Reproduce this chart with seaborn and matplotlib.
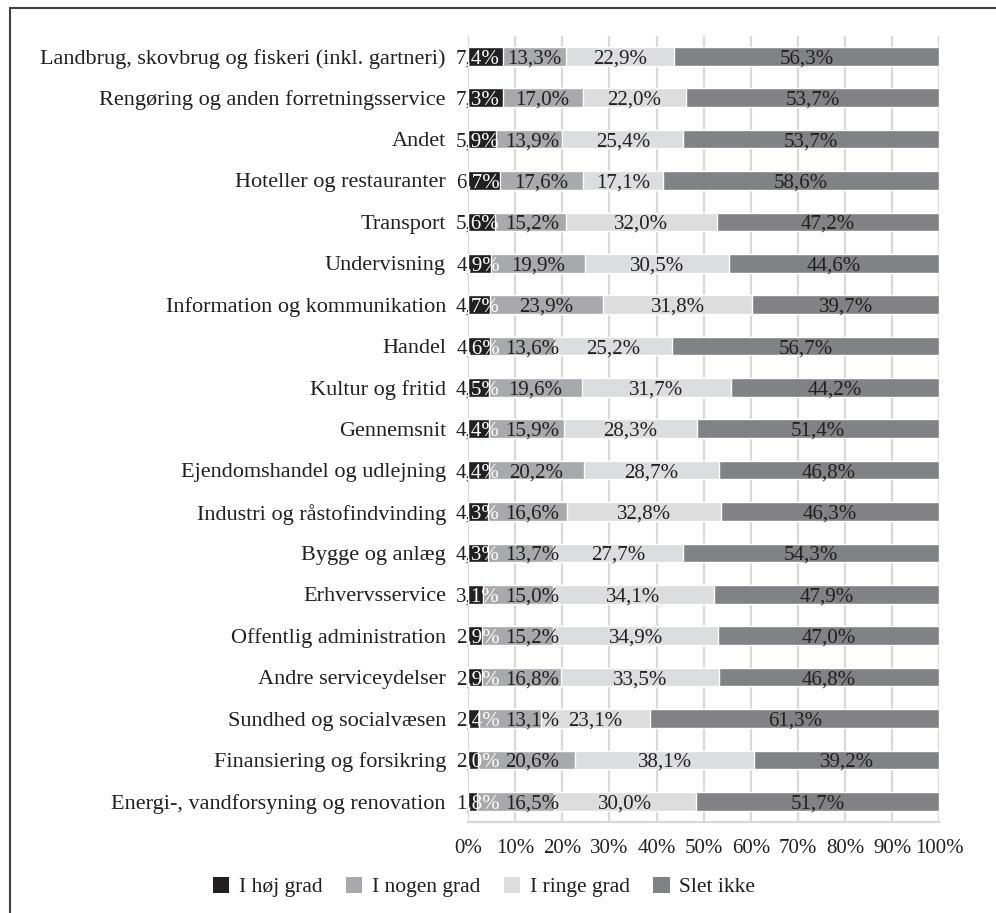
import matplotlib
matplotlib.use("Agg")
import matplotlib.pyplot as plt
import pandas as pd
import seaborn as sns
from matplotlib.lines import Line2D
from matplotlib.patches import Patch, Rectangle

categories = [
    "Landbrug, skovbrug og fiskeri (inkl. gartneri)",
    "Rengøring og anden forretningsservice",
    "Andet",
    "Hoteller og restauranter",
    "Transport",
    "Undervisning",
    "Information og kommunikation",
    "Handel",
    "Kultur og fritid",
    "Gennemsnit",
    "Ejendomshandel og udlejning",
    "Industri og råstofindvinding",
    "Bygge og anlæg",
    "Erhvervsservice",
    "Offentlig administration",
    "Andre serviceydelser",
    "Sundhed og socialvæsen",
    "Finansiering og forsikring",
    "Energi-, vandforsyning og renovation",
]
hoej_grad = [7.4, 7.3, 5.9, 6.7, 5.6, 4.9, 4.7, 4.6, 4.5, 4.4, 4.4, 4.3, 4.3, 3.1, 2.9, 2.9, 2.4, 2.0, 1.8]
nogen_grad = [13.3, 17.0, 13.9, 17.6, 15.2, 19.9, 23.9, 13.6, 19.6, 15.9, 20.2, 16.6, 13.7, 15.0, 15.2, 16.8, 13.1, 20.6, 16.5]
ringe_grad = [22.9, 22.0, 25.4, 17.1, 32.0, 30.5, 31.8, 25.2, 31.7, 28.3, 28.7, 32.8, 27.7, 34.1, 34.9, 33.5, 23.1, 38.1, 30.0]
slet_ikke = [56.3, 53.7, 53.7, 58.6, 47.2, 44.6, 39.7, 56.7, 44.2, 51.4, 46.8, 46.3, 54.3, 47.9, 47.0, 46.8, 61.3, 39.2, 51.7]

series_names = ["I høj grad", "I nogen grad", "I ringe grad", "Slet ikke"]
colors = ["#231f20", "#a7a9ac", "#dcdddf", "#808285"]
text_color = "#231f20"

df = pd.DataFrame({
    "I høj grad": hoej_grad,
    "I nogen grad": nogen_grad,
    "I ringe grad": ringe_grad,
    "Slet ikke": slet_ikke,
})
# 100% stacked: normalise each row like the original chart does
share = df.div(df.sum(axis=1), axis=0) * 100
cum = share.cumsum(axis=1)
cum["branche"] = categories

sns.set_theme(style="white")
plt.rcParams["font.family"] = ["Liberation Serif", "DejaVu Serif"]

fig, ax = plt.subplots(figsize=(9.96, 9.13), dpi=100)
fig.subplots_adjust(left=0.470, right=0.943, top=0.961, bottom=0.0997)

# draw from the longest cumulative layer to the shortest so they stack
total_bars = None
for name, color in reversed(list(zip(series_names, colors))):
    n_before = len(ax.patches)
    sns.barplot(data=cum, x=name, y="branche", color=color, saturation=1,
                width=0.45, orient="h", errorbar=None, ax=ax, zorder=2)
    if total_bars is None:
        total_bars = list(ax.patches[n_before:])

ax.set_xlim(0, 100)
ax.set_ylim(len(categories) - 0.5, -0.5)
ax.set_xticks(range(0, 101, 10))
ax.set_xticklabels([f"{v}%" for v in range(0, 101, 10)])
ax.set_xlabel("")
ax.set_ylabel("")
ax.xaxis.grid(True, color="#d9d9d9", linewidth=1.6)
ax.yaxis.grid(False)
ax.set_axisbelow(True)
for side in ["left", "top", "right"]:
    ax.spines[side].set_visible(False)
ax.spines["bottom"].set_color("#d9d9d9")
ax.spines["bottom"].set_linewidth(1.6)
ax.tick_params(axis="y", length=0, pad=16, labelsize=16, labelcolor=text_color)
ax.tick_params(axis="x", length=0, pad=12, labelsize=15, labelcolor=text_color)


def fmt(v):
    return f"{v:.1f}".replace(".", ",") + "%"


# label placement as in the original: the first series' labels end at a fixed
# spot, the second series' labels are pushed right so they don't collide
first_label_right = 6.75
second_label_min_center = 13.6
baseline_shift = 0.17

for i in range(len(categories)):
    left = 0.0
    for j, name in enumerate(series_names):
        w = share[name].iloc[i]
        label = fmt(df[name].iloc[i])
        y = i + baseline_shift
        if j == 0:
            # dark part only left of the bar, white part clipped to the bar
            t_dark = ax.text(first_label_right, y, label, ha="right", va="baseline",
                             fontsize=15, color=text_color, zorder=3)
            t_dark.set_clip_path(Rectangle((-60, i - 0.5), 60, 1, transform=ax.transData))
            t_dark.set_clip_on(True)
            t_white = ax.text(first_label_right, y, label, ha="right", va="baseline",
                              fontsize=15, color="white", zorder=4)
            t_white.set_clip_path(total_bars[i])
            t_white.set_clip_on(True)
        else:
            xc = left + w / 2
            if j == 1:
                xc = max(xc, second_label_min_center)
            ax.text(xc, y, label, ha="center", va="baseline",
                    fontsize=15, color=text_color, zorder=3)
        left += w

handles = [Patch(facecolor=c, edgecolor="none") for c in colors]
fig.legend(handles, series_names, loc="center", bbox_to_anchor=(0.486, 0.0285),
           ncol=4, frameon=False, fontsize=15.5, handlelength=0.75, handleheight=0.75,
           handletextpad=0.45, columnspacing=1.1, labelcolor=text_color)

# outer frame (left and top edges visible in the original)
fig.add_artist(Line2D([10 / 996, 10 / 996], [0, 1 - 8 / 913], transform=fig.transFigure,
                      color="#404040", linewidth=1.5))
fig.add_artist(Line2D([10 / 996, 1], [1 - 8 / 913, 1 - 8 / 913], transform=fig.transFigure,
                      color="#404040", linewidth=1.5))

fig.savefig("out.png", dpi=100)
